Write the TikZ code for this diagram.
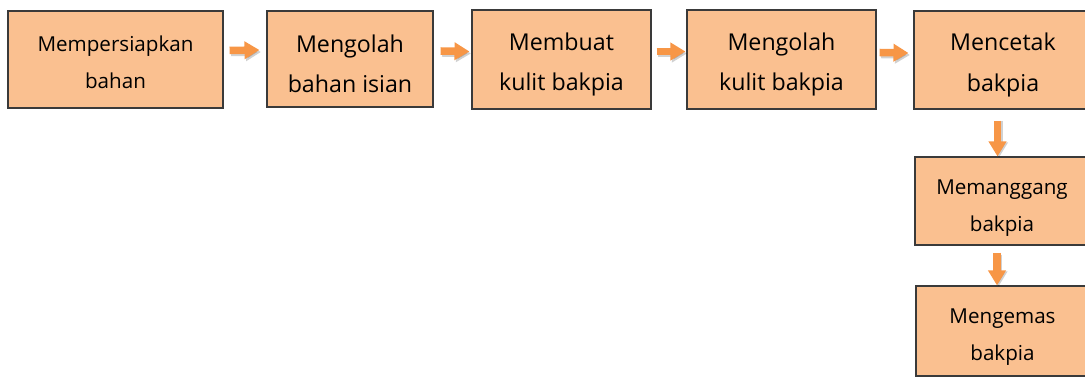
\documentclass[tikz,border=0pt]{standalone}
\usepackage{fontspec}
\setmainfont{Open Sans}
\usetikzlibrary{arrows.meta,calc}
\definecolor{boxfill}{HTML}{FAC090}
\definecolor{boxline}{HTML}{3A3A3A}
\definecolor{flow}{HTML}{F79646}
\tikzset{
  stepbox/.style={draw=boxline, line width=1.1pt, fill=boxfill, inner sep=0pt},
  bigtext/.style={align=center, inner sep=0pt, font=\fontsize{23.2}{40.5}\selectfont},
  smalltext/.style={align=center, inner sep=0pt, font=\fontsize{20.6}{37}\selectfont},
  flowarrow/.style={draw=flow, line width=7.5pt,
    -{Triangle[width=17pt,length=15pt]}},
  flowshadow/.style={draw=black, opacity=.18, line width=7.5pt,
    -{Triangle[width=17pt,length=15pt]}}
}
\begin{document}
\begin{tikzpicture}[x=1pt,y=1pt]
\useasboundingbox (0,0) rectangle (1085,379);
% process steps
\node[stepbox, minimum width=215pt, minimum height=97pt] (b1) at (115.5,319.5) {};
\node[stepbox, minimum width=166pt, minimum height=96pt] (b2) at (350,320) {};
\node[stepbox, minimum width=179pt, minimum height=99pt] (b3) at (561.5,319.5) {};
\node[stepbox, minimum width=189pt, minimum height=99pt] (b4) at (781.5,319.5) {};
\node[stepbox, minimum width=178pt, minimum height=98pt] (b5) at (1003,319) {};
\node[stepbox, minimum width=174pt, minimum height=88pt] (b6) at (1002,178) {};
\node[stepbox, minimum width=173pt, minimum height=90pt] (b7) at (1002.5,48) {};
% step labels
\node[smalltext] (t1) at ([yshift=-3pt]b1.center) {Mempersiapkan\\bahan};
\node[bigtext] (t2) at ([yshift=-5pt]b2.center) {Mengolah\\bahan isian};
\node[bigtext] (t3) at ([yshift=-5pt]b3.center) {Membuat\\kulit bakpia};
\node[bigtext] (t4) at ([yshift=-5pt]b4.center) {Mengolah\\kulit bakpia};
\node[bigtext] (t5) at ([yshift=-5pt]b5.center) {Mencetak\\bakpia};
\node[smalltext] (t6) at ([yshift=-7pt]b6.center) {Memanggang\\bakpia};
\node[smalltext] (t7) at ([yshift=-6.5pt]b7.center) {Mengemas\\bakpia};
% connectors with a soft drop shadow
\foreach \s/\t/\a/\b/\dy in {b1/b2/6/7/9, b2/b3/7/2/8, b3/b4/5/1/8, b4/b5/3/5/7}{
  \draw[flowshadow] ([xshift=\a pt+1.5pt,yshift=\dy pt-2pt]\s.east) -- ([xshift=-\b pt+1.5pt,yshift=\dy pt-2pt]\t.west);
  \draw[flowarrow] ([xshift=\a pt,yshift=\dy pt]\s.east) -- ([xshift=-\b pt,yshift=\dy pt]\t.west);
}
\draw[flowshadow] ([xshift=-4pt,yshift=-11pt]b5.south) -- ([xshift=-4pt,yshift=-1pt]b6.north -| b5.south);
\draw[flowarrow] ([xshift=-5.5pt,yshift=-11pt]b5.south) -- ([xshift=-5.5pt]b6.north -| b5.south);
\draw[flowshadow] ([xshift=-3.5pt,yshift=-9pt]b6.south) -- ([xshift=-3.5pt,yshift=-1pt]b7.north -| b6.south);
\draw[flowarrow] ([xshift=-5pt,yshift=-7pt]b6.south) -- ([xshift=-5pt]b7.north -| b6.south);
\end{tikzpicture}
\end{document}
